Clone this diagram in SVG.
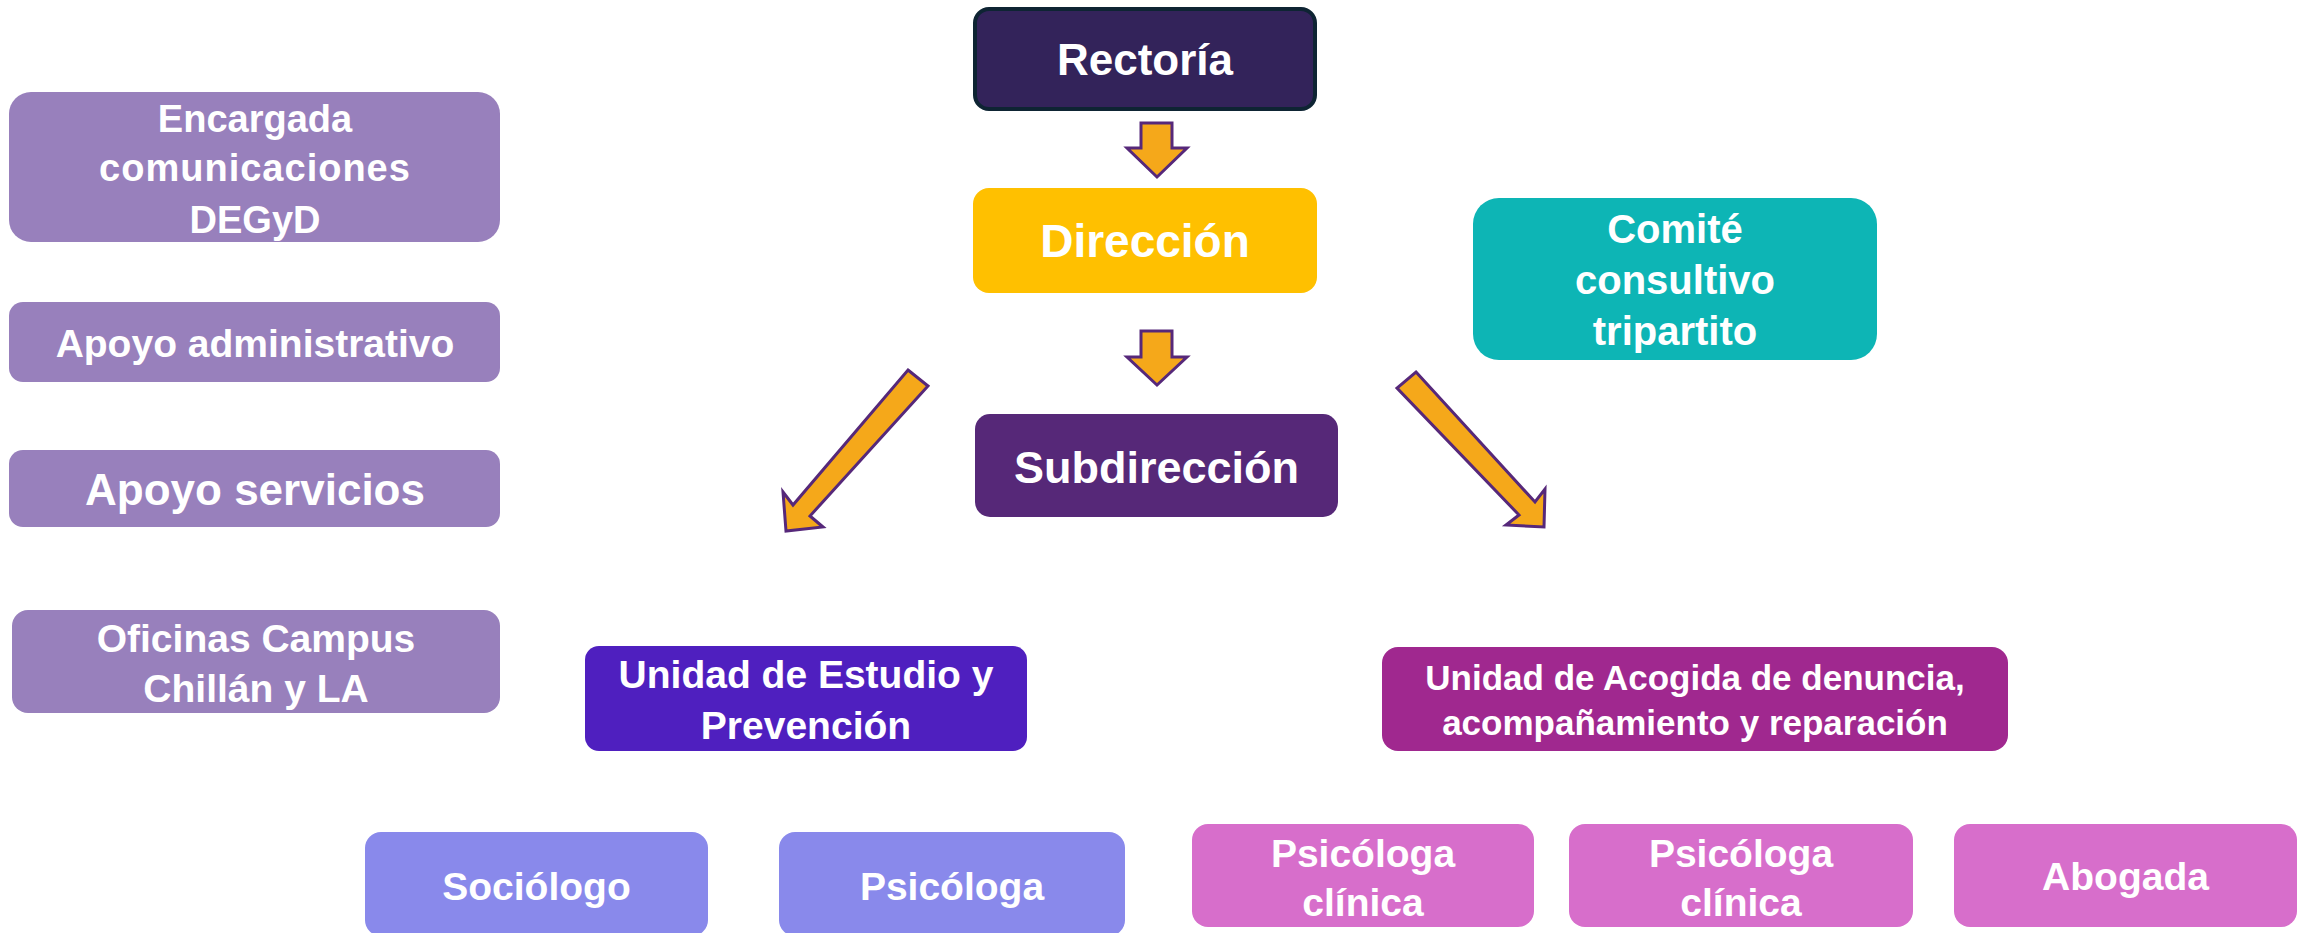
<svg xmlns="http://www.w3.org/2000/svg" width="2300" height="933" viewBox="0 0 2300 933">
<style>
text{font-family:"Liberation Sans",Arial,sans-serif;font-weight:bold;fill:#fff;text-anchor:middle}
.side{fill:#9880BC}
.arrow{fill:#F5A81A;stroke:#56287A;stroke-width:3;stroke-linejoin:miter}
.peri{fill:#8989EB}
.pink{fill:#D76ECB}
</style>
<rect width="2300" height="933" fill="#fff"/>
<g id="connectors">
<polygon class="arrow" points="1141,123 1172,123 1172,148 1187,148 1157,177 1127,148 1141,148"/>
<polygon class="arrow" points="1141,331 1172,331 1172,357 1187,357 1157,385 1127,357 1141,357"/>
<polygon class="arrow" points="908,370 928,386 810,516 823,527 786,531 783,492 793,505"/>
<polygon class="arrow" points="1416,372 1535,502 1545,489 1544,527 1506,525 1519,515 1397,388"/>
</g>
<g id="rectoria">
<rect x="975" y="9" width="340" height="100" rx="14" fill="#33235A" stroke="#0E2433" stroke-width="4"/>
<text x="1145" y="75" font-size="44">Rectoría</text>
</g>
<g id="direccion">
<rect x="973" y="188" width="344" height="105" rx="16" fill="#FFC000"/>
<text x="1145" y="257" font-size="46">Dirección</text>
</g>
<g id="subdireccion">
<rect x="975" y="414" width="363" height="103" rx="15" fill="#562878"/>
<text x="1156.5" y="483" font-size="45">Subdirección</text>
</g>
<g id="comite">
<rect x="1473" y="198" width="404" height="162" rx="26" fill="#0DB5B5"/>
<text x="1675" y="243" font-size="40">Comité</text>
<text x="1675" y="294" font-size="40">consultivo</text>
<text x="1675" y="345" font-size="40">tripartito</text>
</g>
<g id="encargada">
<rect class="side" x="9" y="92" width="491" height="150" rx="22"/>
<text x="255" y="132" font-size="38">Encargada</text>
<text x="255" y="181" font-size="38" letter-spacing="1">comunicaciones</text>
<text x="255" y="233" font-size="38">DEGyD</text>
</g>
<g id="apoyo-administrativo">
<rect class="side" x="9" y="302" width="491" height="80" rx="14"/>
<text x="255" y="357" font-size="39">Apoyo administrativo</text>
</g>
<g id="apoyo-servicios">
<rect class="side" x="9" y="450" width="491" height="77" rx="14"/>
<text x="255" y="505" font-size="44">Apoyo servicios</text>
</g>
<g id="oficinas">
<rect class="side" x="12" y="610" width="488" height="103" rx="16"/>
<text x="256" y="652" font-size="39">Oficinas Campus</text>
<text x="256" y="702" font-size="39">Chillán y LA</text>
</g>
<g id="unidad-estudio">
<rect x="585" y="646" width="442" height="105" rx="14" fill="#4F1FBF"/>
<text x="806" y="688" font-size="39">Unidad de Estudio y</text>
<text x="806" y="739" font-size="39">Prevención</text>
</g>
<g id="unidad-acogida">
<rect x="1382" y="647" width="626" height="104" rx="16" fill="#A0288F"/>
<text x="1695" y="690" font-size="35">Unidad de Acogida de denuncia,</text>
<text x="1695" y="735" font-size="35">acompañamiento y reparación</text>
</g>
<g id="sociologo">
<rect class="peri" x="365" y="832" width="343" height="104" rx="16"/>
<text x="536.5" y="900" font-size="39">Sociólogo</text>
</g>
<g id="psicologa">
<rect class="peri" x="779" y="832" width="346" height="104" rx="16"/>
<text x="952" y="900" font-size="39">Psicóloga</text>
</g>
<g id="psicologa-clinica-1">
<rect class="pink" x="1192" y="824" width="342" height="103" rx="16"/>
<text x="1363" y="867" font-size="39">Psicóloga</text>
<text x="1363" y="916" font-size="39">clínica</text>
</g>
<g id="psicologa-clinica-2">
<rect class="pink" x="1569" y="824" width="344" height="103" rx="16"/>
<text x="1741" y="867" font-size="39">Psicóloga</text>
<text x="1741" y="916" font-size="39">clínica</text>
</g>
<g id="abogada">
<rect class="pink" x="1954" y="824" width="343" height="103" rx="16"/>
<text x="2125.5" y="890" font-size="39">Abogada</text>
</g>
</svg>
